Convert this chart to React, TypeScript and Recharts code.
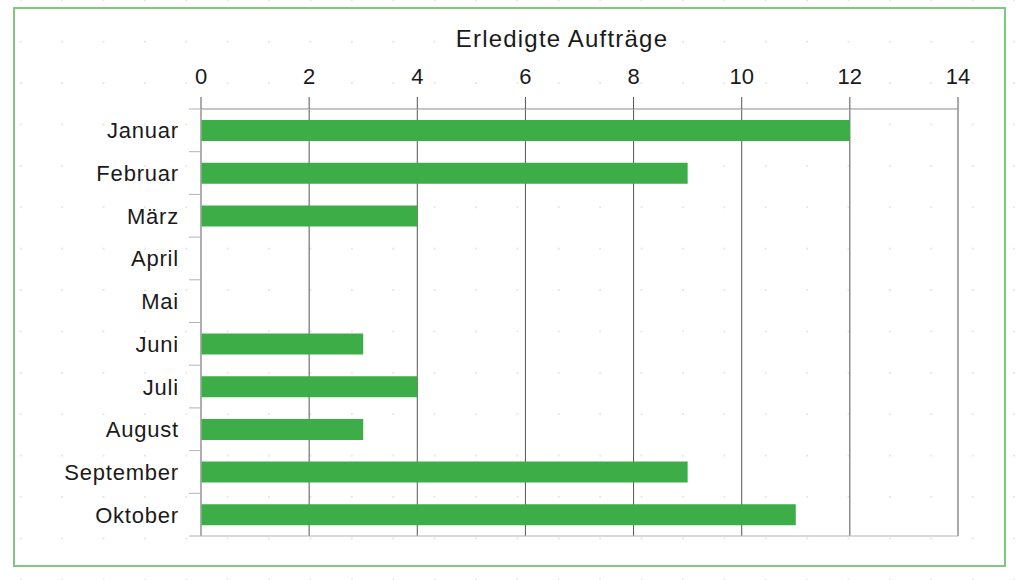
import { Bar, BarChart, CartesianGrid, XAxis, YAxis } from 'recharts';

const months = [
  'Januar',
  'Februar',
  'März',
  'April',
  'Mai',
  'Juni',
  'Juli',
  'August',
  'September',
  'Oktober'
];
const done = [12, 9, 4, 0, 0, 3, 4, 3, 9, 11];
const xTicks = [0, 2, 4, 6, 8, 10, 12, 14];

const data = months.map((month, i) => ({ month, done: done[i] }));

const font = '"Liberation Sans", Arial, sans-serif';

function MonthTick(props: any) {
  const { x, y, payload, index } = props;
  const half = payload?.offset ?? 0;
  return (
    <g>
      <line x1={x + 9} x2={x + 21} y1={y - half} y2={y - half} stroke='#b3b3b3' />
      {index === months.length - 1 && (
        <line x1={x + 9} x2={x + 21} y1={y + half} y2={y + half} stroke='#b3b3b3' />
      )}
      <text
        x={x - 1}
        y={y}
        dy={8}
        textAnchor='end'
        fontSize={22}
        letterSpacing={0.8}
        fill='#1a1a1a'
        fontFamily={font}
      >
        {payload.value}
      </text>
    </g>
  );
}

function App() {
  return (
    <div
      style={{
        position: 'absolute',
        left: 0,
        top: 0,
        width: 1024,
        height: 580,
        background: '#fff',
        backgroundImage: 'radial-gradient(circle, #e8e8e8 0.8px, transparent 1.2px)',
        backgroundSize: '41.4px 41.4px',
        backgroundPosition: '0px 21px',
        fontFamily: font
      }}
    >
      <div
        style={{
          position: 'absolute',
          left: 13,
          top: 7,
          width: 989,
          height: 556,
          border: '2px solid #80c784'
        }}
      />
      <div
        style={{
          position: 'absolute',
          left: 0,
          width: 1124,
          top: 25,
          textAlign: 'center',
          fontSize: 24,
          letterSpacing: 1.2,
          color: '#1a1a1a'
        }}
      >
        Erledigte Aufträge
      </div>
      <div style={{ position: 'absolute', left: 0, top: 0 }}>
        <BarChart
          width={1024}
          height={580}
          data={data}
          layout='vertical'
          margin={{ top: 79, right: 66, bottom: 44, left: 0 }}
        >
          <CartesianGrid horizontal={false} stroke='#555' />
          <CartesianGrid
            vertical={false}
            stroke='#b3b3b3'
            horizontalCoordinatesGenerator={({ offset }: any) => [
              offset.top,
              offset.top + offset.height
            ]}
          />
          <XAxis
            type='number'
            orientation='top'
            domain={[0, 14]}
            ticks={xTicks}
            height={30}
            tickSize={12}
            tickMargin={13}
            axisLine={{ stroke: '#b3b3b3' }}
            tickLine={{ stroke: '#555' }}
            tick={{ fontSize: 22, fill: '#1a1a1a', fontFamily: font }}
          />
          <YAxis
            type='category'
            dataKey='month'
            width={201}
            tickSize={12}
            tickMargin={9}
            tickLine={false}
            axisLine={{ stroke: '#b3b3b3' }}
            interval={0}
            tick={<MonthTick />}
          />
          <Bar dataKey='done' fill='#3cad47' barSize={21} isAnimationActive={false} />
        </BarChart>
      </div>
    </div>
  );
}

export default App;
